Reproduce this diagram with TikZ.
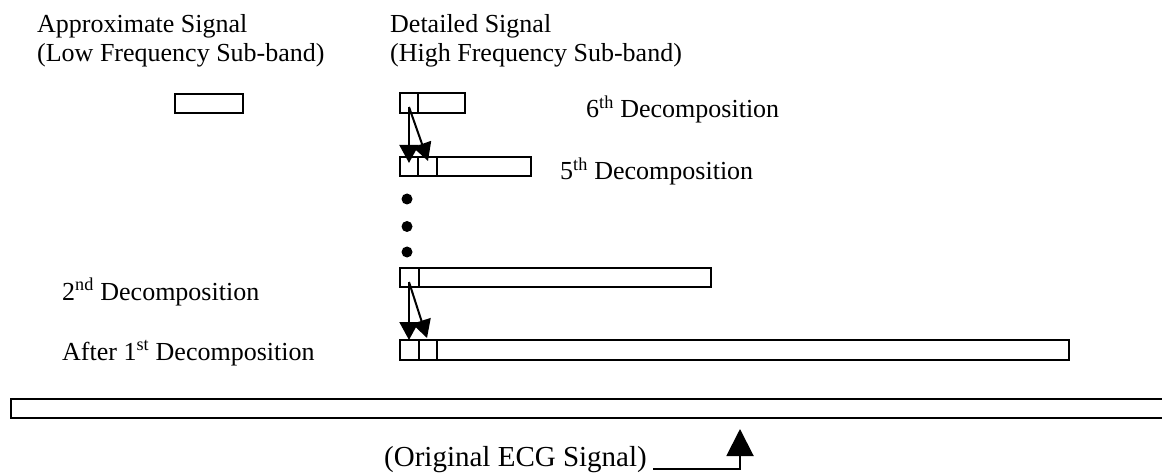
\documentclass[tikz,border=0pt]{standalone}
\usepackage{fontspec}
\setmainfont{Liberation Serif}
\usetikzlibrary{arrows.meta}
\begin{document}
\begin{tikzpicture}[x=1pt,y=-1pt,
  ln/.style={line width=2pt},
  bx/.style={draw,line width=2pt,rectangle,inner sep=0pt,outer sep=0pt,anchor=north west,minimum height=19pt},
  lbl/.style={anchor=base west,inner sep=0pt,font=\fontsize{26}{30}\selectfont},
  arr/.style={line width=2pt,-{Triangle[length=18pt,width=19pt]}},
  bigarr/.style={line width=2pt,-{Triangle[length=27pt,width=27pt]}},
  dotn/.style={circle,fill,inner sep=0pt,minimum size=11pt}]
\useasboundingbox (0,0) rectangle (1162,473);
% labels
\node[lbl] (ap1) at (37,33) {Approximate Signal};
\node[lbl] (ap2) at (37,62) {(Low Frequency Sub-band)};
\node[lbl] (de1) at (390,33) {Detailed Signal};
\node[lbl] (de2) at (390,62) {(High Frequency Sub-band)};
\node[lbl] (l6) at (586,118) {6\textsuperscript{th} Decomposition};
\node[lbl] (l5) at (560,180) {5\textsuperscript{th} Decomposition};
\node[lbl] (l2) at (62,300) {2\textsuperscript{nd} Decomposition};
\node[lbl] (l1) at (62,360) {After 1\textsuperscript{st} Decomposition};
\node[lbl,anchor=base east,font=\fontsize{29}{33}\selectfont] (lo) at (647,466) {(Original ECG Signal)};
% boxes
\node[bx,minimum width=68pt] (ba) at (175,94) {};
\node[bx,minimum width=65pt,minimum height=20pt] (b6) at (400,93) {};
\draw[ln] (418,93) -- (418,113);
\node[bx,minimum width=131pt] (b5) at (400,157) {};
\draw[ln] (418,157) -- (418,176);
\draw[ln] (437,157) -- (437,176);
\node[bx,minimum width=311pt] (b2) at (400,268) {};
\draw[ln] (419,268) -- (419,287);
\node[bx,minimum width=669pt,minimum height=20pt] (b1) at (400,340) {};
\draw[ln] (419,340) -- (419,360);
\draw[ln] (437,340) -- (437,360);
\draw[ln] (1170,399) -- (11,399) -- (11,418) -- (1170,418);
% dots
\node[dotn] (d1) at (407,199) {};
\node[dotn] (d2) at (407,226.5) {};
\node[dotn] (d3) at (407,252) {};
% arrows
\coordinate (s6) at (409,107);
\coordinate (e5a) at (409,163);
\coordinate (e5b) at (428,161);
\draw[arr] (s6) -- (e5a);
\draw[arr] (s6) -- (e5b);
\coordinate (s2) at (409,282);
\coordinate (e1a) at (409,340);
\coordinate (e1b) at (427,338);
\draw[arr] (s2) -- (e1a);
\draw[arr] (s2) -- (e1b);
\coordinate (ot) at (740,429);
\draw[bigarr] ([xshift=6pt,yshift=-3pt]lo.base east) -| (ot);
\end{tikzpicture}
\end{document}
